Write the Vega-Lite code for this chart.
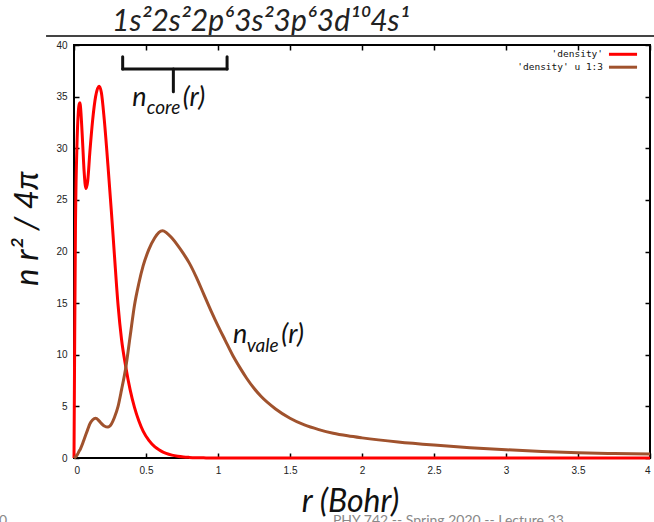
{
  "$schema": "https://vega.github.io/schema/vega-lite/v6.json",
  "width": 576,
  "height": 413,
  "autosize": {"type": "none"},
  "padding": {"left": 74, "top": 45, "right": 4, "bottom": 64},
  "background": "white",
  "config": {
    "view": {"stroke": "black", "strokeWidth": 2},
    "axis": {"grid": false, "domain": false, "labelFont": "Liberation Sans", "labelFontSize": 10, "labelColor": "#222", "tickColor": "black", "tickWidth": 1.5, "tickSize": -5}
  },
  "datasets": {
    "curves": [
      {"r": 0, "core": 0, "vale": 0},
      {"r": 0.005, "core": 12, "vale": 0.05},
      {"r": 0.01, "core": 22, "vale": 0.1},
      {"r": 0.02, "core": 30, "vale": 0.25},
      {"r": 0.03, "core": 33.5, "vale": 0.5},
      {"r": 0.037, "core": 34.3, "vale": 0.7},
      {"r": 0.042, "core": 34.4, "vale": 0.8},
      {"r": 0.047, "core": 33.7, "vale": 0.95},
      {"r": 0.06, "core": 30.5, "vale": 1.4},
      {"r": 0.07, "core": 27.8, "vale": 1.8},
      {"r": 0.083, "core": 26.1, "vale": 2.3},
      {"r": 0.095, "core": 26.8, "vale": 2.75},
      {"r": 0.11, "core": 29.6, "vale": 3.3},
      {"r": 0.13, "core": 32.8, "vale": 3.7},
      {"r": 0.15, "core": 35.0, "vale": 3.85},
      {"r": 0.174, "core": 36.0, "vale": 3.6},
      {"r": 0.19, "core": 35.4, "vale": 3.35},
      {"r": 0.21, "core": 32.8, "vale": 3.1},
      {"r": 0.236, "core": 28.3, "vale": 3.0},
      {"r": 0.26, "core": 23.8, "vale": 3.3},
      {"r": 0.28, "core": 19.8, "vale": 3.9},
      {"r": 0.306, "core": 14.8, "vale": 5.0},
      {"r": 0.33, "core": 11.5, "vale": 6.6},
      {"r": 0.36, "core": 8.8, "vale": 8.8},
      {"r": 0.39, "core": 6.6, "vale": 11.8},
      {"r": 0.42, "core": 4.9, "vale": 14.8},
      {"r": 0.45, "core": 3.6, "vale": 16.9},
      {"r": 0.48, "core": 2.6, "vale": 18.6},
      {"r": 0.52, "core": 1.7, "vale": 20.2},
      {"r": 0.56, "core": 1.1, "vale": 21.3},
      {"r": 0.59, "core": 0.8, "vale": 21.85},
      {"r": 0.615, "core": 0.6, "vale": 22.0},
      {"r": 0.64, "core": 0.45, "vale": 21.85},
      {"r": 0.68, "core": 0.28, "vale": 21.3},
      {"r": 0.72, "core": 0.17, "vale": 20.6},
      {"r": 0.76, "core": 0.1, "vale": 19.8},
      {"r": 0.8, "core": 0.06, "vale": 18.9},
      {"r": 0.85, "core": 0.03, "vale": 17.5},
      {"r": 0.9, "core": 0.015, "vale": 15.9},
      {"r": 0.95, "core": 0, "vale": 14.3},
      {"r": 1.0, "core": 0, "vale": 12.8},
      {"r": 1.05, "core": 0, "vale": 11.4},
      {"r": 1.1, "core": 0, "vale": 10.0},
      {"r": 1.15, "core": 0, "vale": 8.8},
      {"r": 1.2, "core": 0, "vale": 7.7},
      {"r": 1.25, "core": 0, "vale": 6.75},
      {"r": 1.3, "core": 0, "vale": 5.95},
      {"r": 1.4, "core": 0, "vale": 4.75},
      {"r": 1.5, "core": 0, "vale": 3.85},
      {"r": 1.6, "core": 0, "vale": 3.2},
      {"r": 1.7, "core": 0, "vale": 2.75},
      {"r": 1.8, "core": 0, "vale": 2.4},
      {"r": 1.9, "core": 0, "vale": 2.15},
      {"r": 2.0, "core": 0, "vale": 1.95},
      {"r": 2.25, "core": 0, "vale": 1.55},
      {"r": 2.5, "core": 0, "vale": 1.25},
      {"r": 2.75, "core": 0, "vale": 1.0},
      {"r": 3.0, "core": 0, "vale": 0.8},
      {"r": 3.25, "core": 0, "vale": 0.63},
      {"r": 3.5, "core": 0, "vale": 0.5},
      {"r": 3.75, "core": 0, "vale": 0.43},
      {"r": 4.0, "core": 0, "vale": 0.38}
    ],
    "one": [{}]
  },
  "resolve": {"axis": {"x": "independent", "y": "independent"}},
  "layer": [
    {
      "data": {"name": "curves"},
      "mark": {"type": "line", "color": "#ff0000", "strokeWidth": 3, "strokeJoin": "round", "interpolate": "monotone"},
      "encoding": {
        "x": {"field": "r", "type": "quantitative", "scale": {"domain": [0, 4], "nice": false, "zero": false},
          "axis": {"orient": "bottom", "values": [0, 0.5, 1, 1.5, 2, 2.5, 3, 3.5, 4], "format": "~g", "labelPadding": 12,
            "title": "r (Bohr)", "titleFont": "Lato", "titleFontStyle": "italic", "titleFontWeight": "normal", "titleFontSize": 32, "titleColor": "#111",
            "titleX": 276, "titleY": 53, "titleAlign": "center", "titleBaseline": "alphabetic"}},
        "y": {"field": "core", "type": "quantitative", "scale": {"domain": [0, 40], "nice": false},
          "axis": {"orient": "left", "values": [0, 5, 10, 15, 20, 25, 30, 35, 40], "labelPadding": 12,
            "title": "n r² / 4π", "titleFont": "Lato", "titleFontStyle": "italic", "titleFontWeight": "normal", "titleFontSize": 33, "titleColor": "#111",
            "titleAngle": -90, "titleX": -37, "titleY": 183, "titleAlign": "center", "titleBaseline": "alphabetic"}}
      }
    },
    {
      "data": {"name": "curves"},
      "mark": {"type": "line", "color": "#a0522d", "strokeWidth": 3, "strokeJoin": "round", "interpolate": "monotone"},
      "encoding": {
        "x": {"field": "r", "type": "quantitative", "axis": null},
        "y": {"field": "vale", "type": "quantitative", "axis": null}
      }
    },
    {
      "data": {"name": "one"},
      "mark": {"type": "rule", "color": "#ff0000", "strokeWidth": 3},
      "encoding": {
        "x": {"datum": 3.715, "type": "quantitative", "axis": {"orient": "top", "values": [0, 0.5, 1, 1.5, 2, 2.5, 3, 3.5, 4], "labels": false, "title": null}},
        "x2": {"datum": 3.91},
        "y": {"datum": 39.1, "type": "quantitative", "axis": {"orient": "right", "values": [0, 5, 10, 15, 20, 25, 30, 35, 40], "labels": false, "title": null}}
      }
    },
    {
      "data": {"name": "one"},
      "mark": {"type": "rule", "color": "#a0522d", "strokeWidth": 3},
      "encoding": {
        "x": {"datum": 3.715, "type": "quantitative", "axis": null},
        "x2": {"datum": 3.91},
        "y": {"datum": 37.85, "type": "quantitative", "axis": null}
      }
    },
    {
      "data": {"name": "one"},
      "mark": {"type": "text", "text": "'density'", "font": "DejaVu Sans Mono", "fontSize": 9.5, "align": "right", "baseline": "middle", "color": "#111"},
      "encoding": {"x": {"datum": 3.674, "type": "quantitative", "axis": null}, "y": {"datum": 39.1, "type": "quantitative", "axis": null}}
    },
    {
      "data": {"name": "one"},
      "mark": {"type": "text", "text": "'density' u 1:3", "font": "DejaVu Sans Mono", "fontSize": 9.5, "align": "right", "baseline": "middle", "color": "#111"},
      "encoding": {"x": {"datum": 3.674, "type": "quantitative", "axis": null}, "y": {"datum": 37.85, "type": "quantitative", "axis": null}}
    },
    {
      "data": {"name": "one"},
      "mark": {"type": "text", "text": "1s²2s²2p⁶3s²3p⁶3d¹⁰4s¹", "font": "Lato", "fontStyle": "italic", "fontSize": 30, "align": "left", "baseline": "alphabetic", "color": "#222"},
      "encoding": {"x": {"datum": 0.264, "type": "quantitative", "axis": null}, "y": {"datum": 41.4, "type": "quantitative", "axis": null}}
    },
    {
      "data": {"name": "one"},
      "mark": {"type": "rule", "color": "#444", "strokeWidth": 2},
      "encoding": {"x": {"datum": -0.194, "type": "quantitative", "axis": null}, "x2": {"datum": 4.05}, "y": {"datum": 40.87, "type": "quantitative", "axis": null}}
    },
    {
      "data": {"name": "one"},
      "mark": {"type": "rule", "color": "#111", "strokeWidth": 3, "strokeCap": "round"},
      "encoding": {"x": {"datum": 0.338, "type": "quantitative", "axis": null}, "y": {"datum": 38.87, "type": "quantitative", "axis": null}, "y2": {"datum": 37.68}}
    },
    {
      "data": {"name": "one"},
      "mark": {"type": "rule", "color": "#111", "strokeWidth": 3, "strokeCap": "round"},
      "encoding": {"x": {"datum": 1.063, "type": "quantitative", "axis": null}, "y": {"datum": 38.87, "type": "quantitative", "axis": null}, "y2": {"datum": 37.68}}
    },
    {
      "data": {"name": "one"},
      "mark": {"type": "rule", "color": "#111", "strokeWidth": 3, "strokeCap": "round"},
      "encoding": {"x": {"datum": 0.338, "type": "quantitative", "axis": null}, "x2": {"datum": 1.063}, "y": {"datum": 37.68, "type": "quantitative", "axis": null}}
    },
    {
      "data": {"name": "one"},
      "mark": {"type": "rule", "color": "#111", "strokeWidth": 3, "strokeCap": "round"},
      "encoding": {"x": {"datum": 0.69, "type": "quantitative", "axis": null}, "y": {"datum": 37.68, "type": "quantitative", "axis": null}, "y2": {"datum": 35.48}}
    },
    {
      "data": {"name": "one"},
      "mark": {"type": "text", "text": "n", "font": "Lato", "fontStyle": "italic", "fontSize": 27, "align": "left", "baseline": "alphabetic", "color": "#111"},
      "encoding": {"x": {"datum": 0.405, "type": "quantitative", "axis": null}, "y": {"datum": 34.1, "type": "quantitative", "axis": null}}
    },
    {
      "data": {"name": "one"},
      "mark": {"type": "text", "text": "core", "font": "Lato", "fontStyle": "italic", "fontSize": 19, "align": "left", "baseline": "alphabetic", "color": "#111"},
      "encoding": {"x": {"datum": 0.505, "type": "quantitative", "axis": null}, "y": {"datum": 33.33, "type": "quantitative", "axis": null}}
    },
    {
      "data": {"name": "one"},
      "mark": {"type": "text", "text": "(r)", "font": "Lato", "fontStyle": "italic", "fontSize": 27, "align": "left", "baseline": "alphabetic", "color": "#111"},
      "encoding": {"x": {"datum": 0.755, "type": "quantitative", "axis": null}, "y": {"datum": 34.1, "type": "quantitative", "axis": null}}
    },
    {
      "data": {"name": "one"},
      "mark": {"type": "text", "text": "n", "font": "Lato", "fontStyle": "italic", "fontSize": 27, "align": "left", "baseline": "alphabetic", "color": "#111"},
      "encoding": {"x": {"datum": 1.104, "type": "quantitative", "axis": null}, "y": {"datum": 11.11, "type": "quantitative", "axis": null}}
    },
    {
      "data": {"name": "one"},
      "mark": {"type": "text", "text": "vale", "font": "Lato", "fontStyle": "italic", "fontSize": 19, "align": "left", "baseline": "alphabetic", "color": "#111"},
      "encoding": {"x": {"datum": 1.2, "type": "quantitative", "axis": null}, "y": {"datum": 10.24, "type": "quantitative", "axis": null}}
    },
    {
      "data": {"name": "one"},
      "mark": {"type": "text", "text": "(r)", "font": "Lato", "fontStyle": "italic", "fontSize": 27, "align": "left", "baseline": "alphabetic", "color": "#111"},
      "encoding": {"x": {"datum": 1.44, "type": "quantitative", "axis": null}, "y": {"datum": 11.11, "type": "quantitative", "axis": null}}
    },
    {
      "data": {"name": "one"},
      "mark": {"type": "text", "text": "PHY 742 -- Spring 2020 -- Lecture 33", "font": "Lato", "fontSize": 14, "align": "center", "baseline": "top", "color": "#888"},
      "encoding": {"x": {"datum": 2.6, "type": "quantitative", "axis": null}, "y": {"datum": -5.42, "type": "quantitative", "axis": null}}
    },
    {
      "data": {"name": "one"},
      "mark": {"type": "text", "text": "30", "font": "Lato", "fontSize": 14, "align": "right", "baseline": "top", "color": "#888"},
      "encoding": {"x": {"datum": -0.465, "type": "quantitative", "axis": null}, "y": {"datum": -5.42, "type": "quantitative", "axis": null}}
    }
  ]
}
